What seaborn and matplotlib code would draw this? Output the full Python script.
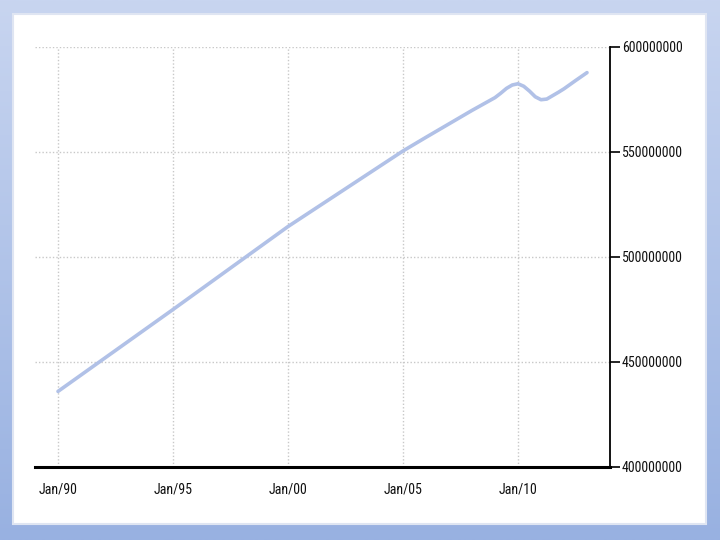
import numpy as np
import pandas as pd
import matplotlib
matplotlib.use("Agg")
import matplotlib.pyplot as plt
from matplotlib.patches import Rectangle
from matplotlib.colors import LinearSegmentedColormap
from matplotlib.ticker import FixedLocator, FuncFormatter
from matplotlib import font_manager
import seaborn as sns

# ---- data ----
years = [1990, 1991, 1992, 1993, 1994, 1995, 1996, 1997, 1998, 1999,
         2000, 2001, 2002, 2003, 2004, 2005, 2006, 2007, 2008, 2009,
         2009.25, 2009.5, 2009.75, 2010.0, 2010.25, 2010.5, 2010.75,
         2011.0, 2011.25, 2011.5, 2011.75, 2012.0, 2012.5, 2013.0]
values_m = [436.0, 443.8, 451.6, 459.4, 467.2, 475.0, 482.9, 490.8, 498.7, 506.6,
            514.5, 521.7, 528.9, 536.1, 543.3, 550.5, 557.0, 563.4, 569.8, 575.9,
            578.0, 580.3, 581.9, 582.5, 581.3, 579.0, 576.3,
            574.9, 575.2, 576.8, 578.4, 580.1, 584.0, 587.8]
x_ticks = [1990, 1995, 2000, 2005, 2010]
x_tick_labels = ["Jan/90", "Jan/95", "Jan/00", "Jan/05", "Jan/10"]
y_ticks = [400000000, 450000000, 500000000, 550000000, 600000000]

df = pd.DataFrame({"year": years, "value": np.array(values_m) * 1e6})

sns.set_style("white")
plt.rcParams["font.family"] = ["DejaVu Sans"]
plt.rcParams["font.stretch"] = "condensed"

# pick a narrow face if one is available
names = {f.name for f in font_manager.fontManager.ttflist}
narrow = None
for cand in ["Liberation Sans Narrow", "Roboto Condensed", "Open Sans Condensed",
             "DejaVu Sans Condensed"]:
    if cand in names:
        narrow = cand
        break
if narrow:
    plt.rcParams["font.family"] = [narrow, "DejaVu Sans"]

fig = plt.figure(figsize=(7.2, 5.4), dpi=100)

# gradient background
bg = fig.add_axes([0, 0, 1, 1], zorder=-10)
cmap = LinearSegmentedColormap.from_list("bg", ["#c8d5f0", "#98b1e1"])
bg.imshow(np.linspace(0, 1, 256).reshape(-1, 1), aspect="auto", cmap=cmap,
          extent=[0, 1, 0, 1])
bg.set_axis_off()

# white panel
fig.patches.append(Rectangle((13 / 720, 1 - 524 / 540), 693 / 720, 510 / 540,
                             transform=fig.transFigure, facecolor="white",
                             edgecolor="#dfe5f2", linewidth=1.5, zorder=-5))

ax = fig.add_axes([35 / 720, 1 - 467 / 540, 575 / 720, 420 / 540], zorder=1)
ax.set_facecolor("none")

sns.lineplot(data=df, x="year", y="value", ax=ax, color="#b1c1e7",
             linewidth=2.6, solid_joinstyle="round", solid_capstyle="round")

ax.set_xlim(1989.0, 2014.0)
ax.set_ylim(400000000, 600000000)

ax.xaxis.set_major_locator(FixedLocator(x_ticks))
ax.set_xticklabels(x_tick_labels)
ax.yaxis.set_major_locator(FixedLocator(y_ticks))
ax.yaxis.set_major_formatter(FuncFormatter(lambda v, p: f"{v:.0f}"))
ax.yaxis.tick_right()

ax.set_xlabel("")
ax.set_ylabel("")

ax.grid(True, which="major", color="#c8c8c8", linestyle=(0, (1, 1.5)), linewidth=1)

for s in ["left", "top"]:
    ax.spines[s].set_visible(False)
ax.spines["bottom"].set_color("black")
ax.spines["bottom"].set_linewidth(2.2)
ax.spines["right"].set_color("black")
ax.spines["right"].set_linewidth(1.3)

lsize = 10 if narrow else 8.5
ax.tick_params(axis="x", direction="out", length=3, color="#aaaaaa",
               pad=8, labelsize=lsize, labelcolor="#111111")
ax.tick_params(axis="y", direction="out", length=7, width=1.2, color="black",
               pad=1.5, labelsize=lsize, labelcolor="#111111")
for lab in ax.get_xticklabels() + ax.get_yticklabels():
    lab.set_fontstretch("condensed")

fig.savefig("out.png", dpi=100)
